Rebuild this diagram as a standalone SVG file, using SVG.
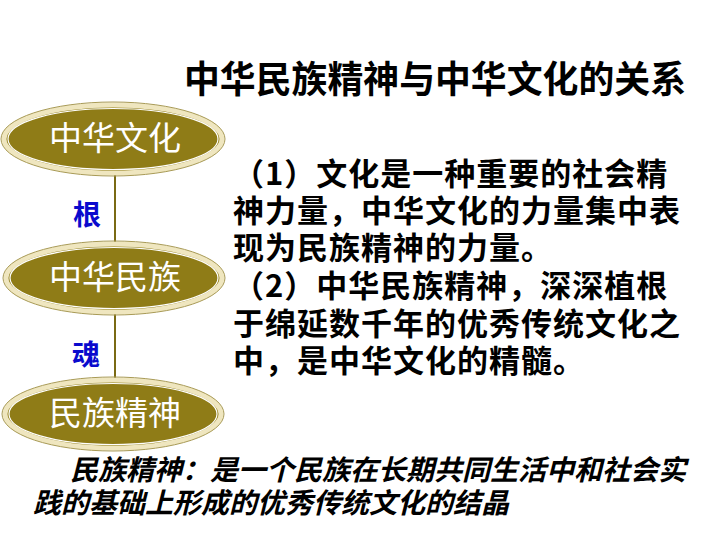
<svg xmlns="http://www.w3.org/2000/svg" width="720" height="540" viewBox="0 0 720 540">
<defs>
<style>
.el{fill:#8f7c17;stroke:#efe6bf;stroke-width:5}
.elin{fill:none;stroke:#ffffff;stroke-width:1.2}
.elout{fill:none;stroke:#a89a55;stroke-width:1}
.nt{font-family:"Noto Sans CJK SC","Noto Sans",sans-serif;font-size:33px;fill:#ffffff;text-anchor:middle}
.lbl{font-family:"Noto Sans CJK SC",sans-serif;font-size:28px;font-weight:700;fill:#0a0acd;text-anchor:middle}
.title{font-family:"Noto Sans CJK SC",sans-serif;font-size:37px;font-weight:700;fill:#000000}
.body{font-family:"Noto Sans CJK SC",sans-serif;font-size:31px;letter-spacing:1px;font-weight:700;fill:#000000}
.foot{font-family:"Noto Sans CJK SC",sans-serif;font-size:28px;font-weight:700;font-style:italic;fill:#000000}
.conn{stroke:#7a6a14;stroke-width:2;fill:none}
</style>
</defs>
<rect width="720" height="540" fill="#ffffff"/>
<text class="title" x="184" y="93" textLength="502" lengthAdjust="spacingAndGlyphs">中华民族精神与中华文化的关系</text>
<g id="connectors">
<line class="conn" x1="115" y1="173" x2="115" y2="244"/>
<line class="conn" x1="115" y1="312" x2="115" y2="380"/>
<text class="lbl" x="87" y="225">根</text>
<text class="lbl" x="86" y="365">魂</text>
</g>
<g id="node-culture">
<ellipse class="el" cx="113" cy="139" rx="109" ry="34"/>
<ellipse class="elout" cx="113" cy="139" rx="112" ry="37"/>
<ellipse class="elin" cx="113" cy="139" rx="105" ry="30.5"/>
<text class="nt" x="115" y="150">中华文化</text>
</g>
<g id="node-nation">
<ellipse class="el" cx="114" cy="278" rx="108" ry="34"/>
<ellipse class="elout" cx="114" cy="278" rx="111" ry="37"/>
<ellipse class="elin" cx="114" cy="278" rx="104" ry="30.5"/>
<text class="nt" x="115" y="289">中华民族</text>
</g>
<g id="node-spirit">
<ellipse class="el" cx="113" cy="414" rx="108" ry="34"/>
<ellipse class="elout" cx="113" cy="414" rx="111" ry="37"/>
<ellipse class="elin" cx="113" cy="414" rx="104" ry="30.5"/>
<text class="nt" x="115" y="425">民族精神</text>
</g>
<g id="body-text">
<text class="body" x="233" y="185">（1）文化是一种重要的社会精</text>
<text class="body" x="233" y="222">神力量，中华文化的力量集中表</text>
<text class="body" x="233" y="259">现为民族精神的力量。</text>
<text class="body" x="233" y="297">（2）中华民族精神，深深植根</text>
<text class="body" x="233" y="335">于绵延数千年的优秀传统文化之</text>
<text class="body" x="233" y="372">中，是中华文化的精髓。</text>
</g>
<g id="footnote">
<text class="foot" x="70" y="480">民族精神：是一个民族在长期共同生活中和社会实</text>
<text class="foot" x="33" y="513">践的基础上形成的优秀传统文化的结晶</text>
</g>
</svg>
